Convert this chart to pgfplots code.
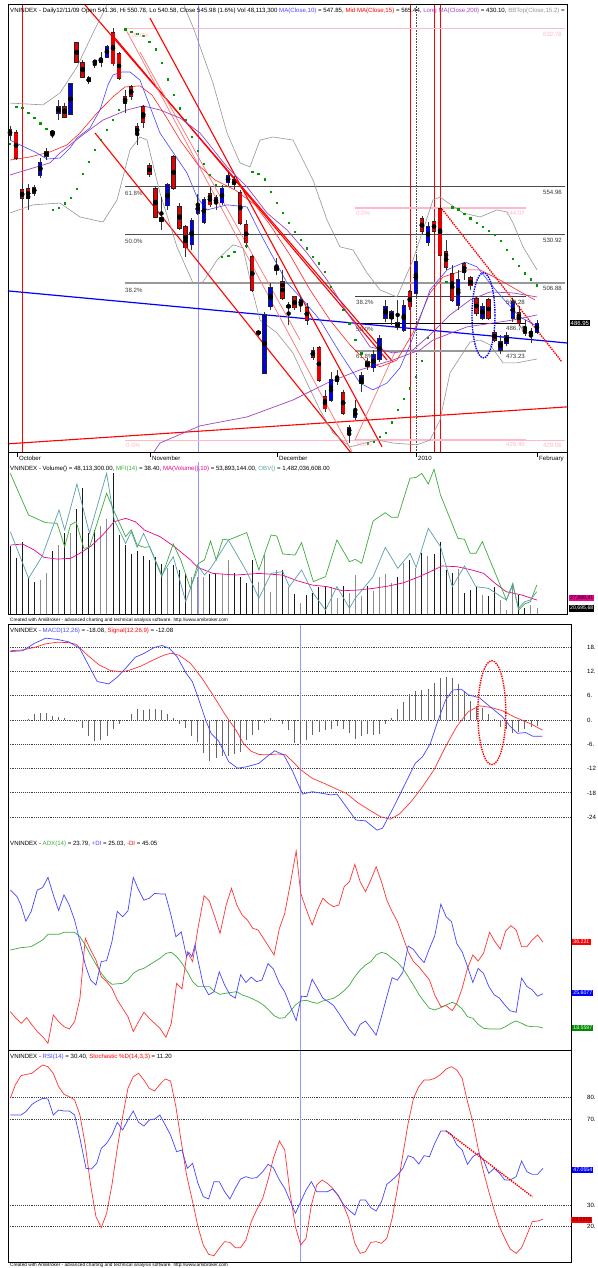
\documentclass[border=0pt]{standalone}
\usepackage{pgfplots}
\usepackage{pgfplotstable}
\pgfplotsset{compat=1.18}
\usepackage{fontspec}
\setmainfont{Liberation Sans}
\definecolor{maBlue}{RGB}{70,70,255}
\definecolor{candRed}{RGB}{230,0,0}
\definecolor{candBlue}{RGB}{0,0,230}
\definecolor{fibpink}{RGB}{255,185,200}
\definecolor{purp}{RGB}{160,70,190}
\definecolor{sarGreen}{RGB}{0,150,0}
\definecolor{mfiGreen}{RGB}{60,170,60}
\definecolor{obvTeal}{RGB}{90,160,170}
\definecolor{lblue}{RGB}{150,150,255}
\definecolor{bbgray}{RGB}{150,150,150}
\newcommand{\tf}{\fontsize{6.1}{6.6}\selectfont}
\newcommand{\smallf}{\fontsize{4.75}{5.2}\selectfont}
\pgfplotsset{
  pane/.style={scale only axis, hide axis, xmin=-0.33, clip=true, anchor=south west},
  upane/.style={pane, xmax=92.04, width=559.5pt},
  lpane/.style={pane, xmax=92.62, width=563pt},
}
\pgfplotstableread{
i o h l c
5 560.4 568.8 558.9 566.4
6 569.8 573.8 567.8 571.8
8 591.1 597.5 587.6 594.1
10 590.6 605.9 590.1 605.4
15 616.3 621.3 613.9 617.8
16 618.8 624.8 618.3 623.8
26 545.1 556.5 543.1 555.5
30 525.8 539.1 523.3 537.6
31 541.36 550.78 540.58 545.98
32 537.1 549.5 536.1 548.0
35 546.6 555.5 545.6 553.5
36 556.5 561.9 555.0 559.9
41 482.0 483.7 480.7 482.7
42 462.4 492.6 461.9 491.1
43 495.1 507.0 493.6 504.5
44 513.4 519.3 510.9 514.9
46 495.1 497.5 486.1 495.6
48 496.1 500.0 492.6 498.5
53 449.0 462.9 448.0 458.9
54 458.4 463.9 456.4 459.9
56 432.7 436.7 427.7 435.2
57 440.6 449.0 439.1 443.6
58 457.4 462.9 453.0 460.9
60 464.9 473.8 462.9 471.3
61 469.3 481.2 467.8 479.2
62 489.6 498.5 487.6 495.1
63 489.6 493.6 486.1 492.6
65 483.7 498.5 482.7 495.6
67 502.0 520.8 501.0 517.3
69 527.2 537.1 525.3 534.7
74 496.0 513.4 493.6 508.4
78 489.6 497.0 488.6 495.1
81 473.8 481.2 471.8 477.8
82 476.8 482.7 475.8 480.7
83 489.6 499.5 487.6 497.5
86 482.0 484.7 477.2 482.4
87 482.7 488.6 481.7 486.95
}\upc
\pgfplotstableread{
i o h l c
0 582.7 584.7 577.7 580.2
1 581.2 582.7 567.8 568.8
2 553.0 556.5 544.6 549.0
3 553.5 556.0 543.1 549.0
4 554.0 555.5 550.0 551.5
7 581.7 582.2 578.7 581.2
9 594.1 596.0 588.6 589.1
11 625.8 626.3 615.8 616.3
12 615.9 617.3 608.4 608.9
13 608.4 609.4 605.4 606.5
14 616.6 617.3 613.4 616.3
17 630.7 633.2 614.4 615.4
18 620.3 621.3 607.4 608.4
19 599.1 602.5 591.1 596.0
20 604.0 605.0 597.5 599.5
21 584.2 586.1 575.3 581.2
22 594.1 595.1 583.7 586.6
23 564.9 566.4 559.4 560.9
24 553.5 555.0 539.1 539.6
25 539.1 549.5 533.2 537.6
27 569.3 570.3 553.0 554.0
28 544.6 546.5 533.2 534.2
29 534.7 535.7 519.8 524.3
33 551.0 554.5 544.6 545.6
34 549.0 550.5 543.1 546.6
37 557.9 559.9 553.5 555.5
38 551.5 553.0 535.7 536.6
39 535.7 538.1 524.3 526.8
40 519.8 520.8 502.5 503.4
45 507.4 513.4 498.5 499.5
47 500.0 500.5 493.6 494.6
49 494.6 497.0 486.1 488.6
50 473.3 475.3 468.8 470.3
51 474.8 475.8 458.0 458.9
52 450.5 454.0 443.1 444.6
55 452.5 454.0 441.6 442.6
59 467.8 469.8 463.9 465.4
64 487.1 498.5 483.7 485.1
66 502.5 503.5 493.6 495.1
68 538.6 540.1 530.7 532.7
70 537.1 539.1 530.7 532.7
71 543.6 545.6 520.3 520.8
72 522.3 528.2 513.4 514.9
73 511.4 515.9 497.5 498.5
75 516.4 517.3 508.4 512.4
76 509.4 510.4 503.5 505.5
77 499.0 500.5 490.6 492.1
79 498.5 499.5 488.6 489.6
80 482.2 483.7 477.7 478.7
84 492.1 495.6 485.7 487.1
85 484.2 488.6 480.7 482.2
}\dnc
\pgfplotstableread{
i v
5 45.3
6 51.6
8 75.5
10 85.6
15 92.3
16 97.7
26 55.3
30 47.5
31 48.11
32 47.5
35 50.4
36 62.6
41 43.8
42 66.9
43 35.2
44 53.9
46 39.5
48 25.1
53 39.5
54 29.4
56 34.3
57 49.6
58 31.4
60 36.0
61 47.5
62 50.2
63 42.4
65 59.6
67 55.3
69 66.0
74 54.5
78 32.3
81 28.0
82 19.3
83 41.8
86 23.6
87 20.7
}\volUp
\pgfplotstableread{
i v
0 74.7
1 64.6
2 78.4
3 46.7
4 43.2
7 70.6
9 86.2
11 106.7
12 124.5
13 85.6
14 88.5
17 137.5
18 84.2
19 75.5
20 67.8
21 70.6
22 66.0
23 62.6
24 65.4
25 59.1
27 58.2
28 53.9
29 50.4
33 50.2
34 51.0
37 51.0
38 47.5
39 42.4
40 62.6
45 53.9
47 33.2
49 32.3
50 34.3
51 38.9
52 38.9
55 40.1
59 40.1
64 48.1
66 62.6
68 68.3
70 67.8
71 78.4
72 53.9
73 51.0
75 33.7
76 36.6
77 39.5
79 31.4
80 39.5
84 32.3
85 20.7
}\volDn
\pgfplotstableread{
i h
0 0
1 0
2 0
3 0.3
4 1.4
5 1.8
6 1.8
7 1.0
8 0.8
9 0.6
10 -0.2
11 -0.6
12 -1.9
13 -3.9
14 -5.3
15 -5.0
16 -3.9
17 -2.2
18 -0.9
19 0.0
20 1.4
21 2.6
22 2.5
23 2.6
24 2.6
25 2.5
26 1.6
27 0.5
28 -1.0
29 -2.0
30 -4.0
31 -5.5
32 -8.2
33 -10.2
34 -9.5
35 -9.0
36 -8.8
37 -8.5
38 -7.8
39 -5.0
40 -3.8
41 -2.5
42 -0.8
43 0.6
44 -0.3
45 -1.0
46 -2.5
47 -5.6
48 -5.9
49 -4.9
50 -3.7
51 -2.9
52 -2.5
53 -2.1
54 -1.6
55 -2.1
56 -3.3
57 -4.6
58 -4.0
59 -3.5
60 -3.6
61 -3.5
62 -1.0
63 0.6
64 2.6
65 4.5
66 6.3
67 7.2
68 7.4
69 7.6
70 9.1
71 10.3
72 10.5
73 10.3
74 9.0
75 7.2
76 4.6
77 3.5
78 2.9
79 1.5
80 0.2
81 -1.8
82 -2.1
83 -3.3
84 -2.9
85 -2.1
86 -1.8
87 -1.6
}\hist
\begin{document}
\begin{tikzpicture}[x=1pt,y=1pt]
\fill[white] (0,0) rectangle (597,-1268);

% ================= PRICE PANE =================
\begin{axis}[upane, at={(8pt,-452.3pt)}, height=448pt, ymin=423.1, ymax=644.9]
\addplot[lblue, line width=1pt] coordinates {(31.09,400) (31.09,660)};
\addplot[red, line width=0.9pt] coordinates {(1.98,400) (1.98,660)};
\addplot[red, line width=0.9pt] coordinates {(66.15,400) (66.15,660)};
\addplot[red, line width=0.9pt] coordinates {(70.0,400) (70.0,660)};
\addplot[red, line width=0.9pt] coordinates {(71.1,400) (71.1,660)};
\addplot[black!70, densely dotted, line width=0.6pt] coordinates {(67.03,400) (67.03,660)};
\addplot[fibpink, line width=1.2pt] coordinates {(18.99,632.78) (91.6,632.78)};
\addplot[black!70, line width=0.7pt] coordinates {(18.99,554.96) (91.6,554.96)};
\addplot[black!70, line width=0.7pt] coordinates {(18.99,530.92) (91.6,530.92)};
\addplot[black!40, line width=1.4pt] coordinates {(18.99,506.88) (91.6,506.88)};
\addplot[fibpink, line width=1.2pt] coordinates {(18.99,429.06) (91.6,429.06)};
\addplot[fibpink, line width=1.2pt] coordinates {(56.96,544.07) (85.19,544.07)};
\addplot[black!75, line width=0.7pt] coordinates {(56.96,500.29) (85.19,500.29)};
\addplot[black, line width=0.9pt] coordinates {(56.96,486.76) (85.19,486.76)};
\addplot[black!40, line width=1.4pt] coordinates {(56.96,473.23) (85.19,473.23)};
\addplot[fibpink, line width=1.2pt] coordinates {(56.96,429.45) (85.19,429.45)};
\addplot[blue, line width=1.2pt] coordinates {(-0.33,503.0) (92.04,477.2)};
\addplot[red, line width=1.1pt] coordinates {(-0.33,427.3) (92.04,445.6)};
\addplot[red, line width=1.1pt] coordinates {(12.38,644.6) (63.23,467.8)};
\addplot[red, line width=1.1pt] coordinates {(17.34,628.2) (62.24,468.8)};
\addplot[red, line width=1.1pt] coordinates {(23.11,638.1) (61.42,425.8)};
\addplot[red, line width=1.1pt] coordinates {(14.03,581.2) (56.96,420.3)};
\addplot[red!55, line width=0.7pt] coordinates {(18.99,633.2) (56.46,423.3)};
\addplot[red!55, line width=0.7pt] coordinates {(21.46,621.3) (47.88,478.7)};
\addplot[red!55, line width=0.7pt] coordinates {(56.96,429.2) (63.56,472.8)};
\addplot[red, densely dotted, line width=1.4pt] coordinates {(71.32,543.5) (91.13,467.8)};
\addplot[bbgray, line width=0.6pt] coordinates {(0,596.0)(5.45,595.1)(8.25,601.0)(11.06,613.9)(13.70,630.7)(15.35,640.6)(16.84,649.5)(28.07,649.5)(29.22,640.6)(30.21,633.7)(33.51,605.9)(35.83,581.2)(37.97,566.4)(39.62,564.4)(41.27,577.7)(43.42,579.2)(46.72,577.7)(50.02,557.9)(52.34,538.1)(54.48,524.8)(56.63,523.3)(58.94,511.9)(61.09,503.5)(63.89,500.0)(66.53,518.3)(69.84,548.0)(70.99,549.5)(72.15,547.0)(74.79,541.6)(77.60,539.6)(80.40,543.1)(82.05,542.1)(83.05,536.6)(84.70,524.8)(87.01,513.4)};
\addplot[bbgray, line width=0.6pt] coordinates {(0,541.6)(3.80,545.6)(8.25,546.5)(11.56,539.6)(15.35,537.1)(17.67,548.0)(19.81,572.8)(21.46,579.2)(22.62,577.7)(24.76,551.5)(27.57,524.8)(30.21,506.9)(31.86,507.4)(34.18,518.3)(36.82,525.8)(38.47,524.3)(40.12,502.0)(41.27,488.6)(44.08,482.2)(46.72,472.3)(49.03,457.4)(51.18,444.1)(53.33,432.7)(56.13,425.8)(60.59,429.2)(63.23,427.7)(67.20,426.8)(69.34,429.2)(70.99,439.1)(72.64,462.4)(75.95,477.7)(77.60,478.7)(79.25,476.3)(81.39,467.4)(83.70,467.4)(87.01,469.3)};
\addplot[purp, line width=0.7pt] coordinates {(0,560.4)(6.60,566.4)(8.25,571.3)(11.56,579.2)(15.35,587.6)(19.32,592.6)(21.96,594.6)(24.76,592.6)(28.07,588.6)(31.37,581.2)(35.83,564.4)(39.13,554.5)(42.43,541.6)(45.73,533.2)(49.03,521.8)(52.34,508.4)(56.13,490.1)(59.44,475.3)(63.23,472.3)(66.53,473.8)(69.34,481.2)(72.64,491.1)(75.95,498.5)(79.25,502.5)(83.05,502.0)(87.01,500.0)};
\addplot[purp, line width=0.7pt] coordinates {(23.11,420.3)(24.76,427.7)(31.37,436.2)(39.13,440.6)(46.72,449.0)(52.34,457.4)(57.78,463.9)(63.23,468.8)(67.69,473.8)(69.84,478.7)(75.45,485.2)(83.05,488.6)(87.01,491.1)};
\addplot[red!85, line width=0.6pt] coordinates {(0,567.8)(3.30,569.3)(6.60,571.8)(9.41,575.3)(11.56,581.2)(14.36,591.1)(17.00,599.1)(18.99,604.0)(21.46,604.5)(23.44,600.0)(25.59,590.1)(28.07,577.7)(31.04,565.4)(33.85,557.9)(37.15,553.0)(40.45,545.6)(42.93,535.7)(46.23,520.8)(49.53,503.5)(52.83,488.6)(56.13,476.3)(58.61,468.8)(61.09,465.4)(63.89,468.8)(66.53,482.2)(69.34,502.0)(71.49,509.9)(75.12,513.4)(77.60,513.4)(80.90,508.4)(83.70,503.5)(86.68,498.5)};
\addplot[maBlue, line width=0.6pt] coordinates {(0,577.7)(1.65,575.3)(4.13,571.8)(6.11,568.3)(8.25,568.8)(9.91,573.8)(11.06,578.7)(13.21,583.7)(14.86,592.6)(16.18,605.0)(17.0,609.9)(18.49,611.4)(19.81,611.4)(21.46,607.4)(24.76,581.2)(29.22,561.4)(30.87,549.5)(32.52,543.1)(35.83,545.6)(39.13,544.6)(41.27,531.7)(45.73,507.0)(48.37,498.5)(51.18,488.6)(54.48,472.3)(57.78,457.4)(59.93,454.0)(62.24,457.4)(64.4,465.0)(66.04,476.3)(67.69,489.6)(69.34,503.5)(72.15,513.4)(75.12,517.3)(77.10,514.9)(79.74,505.0)(82.05,497.0)(84.20,490.1)(86.68,486.1)(87.0,485.8)};
\addplot[only marks, mark=square*, mark size=0.65pt, sarGreen] coordinates {(0,575.8)(1,594.1)(2,593.6)(3,591.1)(4,588.6)(5,586.1)(6,583.2)(7,543.1)(8,544.1)(9,546.5)(10,549.0)(11,553.5)(12,560.9)(13,566.9)(14,572.8)(15,577.7)(16,582.7)(17,587.6)(18,592.6)(19,632.5)(20,631.3)(21,630.5)(22,629.2)(23,626.4)(24,622.6)(25,616.0)(26,607.8)(27,600.0)(28,593.4)(29,587.6)(30,579.4)(31,572.4)(32,565.9)(33,560.4)(34,555.5)(35,519.9)(36,520.3)(37,522.5)(39,525.4)(40,562.0)(41,561.2)(42,558.3)(43,552.1)(44,546.7)(45,541.7)(46,536.8)(47,532.3)(48,528.2)(49,524.1)(50,519.9)(51,516.7)(52,512.5)(53,505.1)(55,493.6)(56,487.0)(57,478.7)(58,472.1)(59,427.6)(60,428.4)(61,430.9)(62,432.9)(63,438.0)(64,444.1)(65,449.5)(66,454.8)(67,460.6)(68,468.5)(69,480.0)(72,507.6)(73,544.4)(74,543.4)(75,541.1)(76,539.0)(77,536.8)(78,534.8)(79,532.7)(80,530.7)(81,527.9)(82,523.3)(83,519.1)(84,515.4)(85,511.8)(86,508.8)(87,505.9)};
\addplot[only marks, mark=none, error bars/.cd, y dir=both, y explicit, error mark=none, error bar style={line width=0.6pt, black!80}] table[x=i, y expr={(\thisrow{h}+\thisrow{l})/2}, y error expr={(\thisrow{h}-\thisrow{l})/2}] {\upc};
\addplot[only marks, mark=none, error bars/.cd, y dir=both, y explicit, error mark=none, error bar style={line width=0.6pt, black!80}] table[x=i, y expr={(\thisrow{h}+\thisrow{l})/2}, y error expr={(\thisrow{h}-\thisrow{l})/2}] {\dnc};
\addplot[only marks, mark=none, error bars/.cd, y dir=both, y explicit, error mark=none, error bar style={line width=4.4pt, black!85}] table[x=i, y expr={(\thisrow{o}+\thisrow{c})/2}, y error expr={max(abs(\thisrow{o}-\thisrow{c})/2,0.35)+0.3}] {\upc};
\addplot[only marks, mark=none, error bars/.cd, y dir=both, y explicit, error mark=none, error bar style={line width=4.4pt, black!85}] table[x=i, y expr={(\thisrow{o}+\thisrow{c})/2}, y error expr={max(abs(\thisrow{o}-\thisrow{c})/2,0.35)+0.3}] {\dnc};
\addplot[only marks, mark=none, error bars/.cd, y dir=both, y explicit, error mark=none, error bar style={line width=3.2pt, candBlue}] table[x=i, y expr={(\thisrow{o}+\thisrow{c})/2}, y error expr={max(abs(\thisrow{o}-\thisrow{c})/2,0.35)}] {\upc};
\addplot[only marks, mark=none, error bars/.cd, y dir=both, y explicit, error mark=none, error bar style={line width=3.2pt, candRed}] table[x=i, y expr={(\thisrow{o}+\thisrow{c})/2}, y error expr={max(abs(\thisrow{o}-\thisrow{c})/2,0.35)}] {\dnc};
\draw[blue, densely dotted, line width=1.4pt] (axis cs:78.17,490.9) ellipse [x radius=11.5pt, y radius=42.5pt];
\end{axis}

% ================= VOLUME PANE =================
\begin{axis}[upane, at={(8pt,-614.7pt)}, height=152.7pt, ymin=15.27, ymax=147.36]
\addplot[lblue, line width=1pt] coordinates {(31.09,0) (31.09,200)};
\addplot[ycomb, black!45, line width=0.9pt] table[x=i,y=v] {\volUp};
\addplot[ycomb, black!90, line width=0.9pt] table[x=i,y=v] {\volDn};
\addplot[magenta, line width=0.7pt] coordinates {(0.05,75.5)(2.1,76.4)(4.0,71.2)(5.6,64.9)(7.8,63.4)(10.0,64.0)(11.5,68.3)(13.4,74.7)(15.3,84.2)(17.2,95.7)(19.1,98.6)(20.7,95.7)(22.2,88.5)(24.8,82.7)(27.3,73.5)(29.8,62.6)(31.0,56.2)(33.5,51.0)(37.3,49.6)(41.1,51.0)(44.9,49.6)(47.4,44.7)(49.9,40.9)(52.4,39.5)(54.9,36.0)(57.4,36.6)(59.9,38.0)(62.5,40.1)(65.0,42.9)(67.5,48.1)(69.4,52.5)(71.3,57.4)(73.8,56.8)(76.3,53.9)(78.2,51.0)(80.1,42.4)(81.9,35.2)(84.5,32.3)(87.0,27.9)};
\end{axis}
\begin{axis}[upane, at={(8pt,-614.7pt)}, height=152.7pt, ymin=-1.38, ymax=102.0]
\addplot[mfiGreen, line width=0.7pt] coordinates {(0.05,94.3)(3.07,66.1)(5.90,60.9)(7.78,60.5)(9.03,44.7)(9.98,59.4)(10.92,61.6)(12.18,43.6)(13.12,44.2)(15.95,80.8)(17.21,68.4)(19.09,51.5)(20.03,56.0)(20.98,45.8)(22.23,44.2)(23.05,44.7)(25.06,24.4)(26.95,46.5)(28.20,35.7)(29.78,16.5)(31.03,33.0)(32.10,35.7)(33.11,48.5)(34.05,35.7)(35.12,49.7)(36.07,49.2)(39.08,54.2)(41.09,28.9)(43.10,52.6)(44.05,51.9)(45.05,39.7)(47.06,39.0)(48.13,47.4)(50.08,21.0)(52.09,24.4)(53.97,49.2)(56.05,34.5)(56.99,36.1)(58.06,33.4)(59.95,62.1)(61.96,67.7)(62.96,64.6)(64.03,64.6)(66.04,91.0)(67.05,91.6)(67.99,94.3)(69.06,87.1)(70.0,97.1)(71.07,79.7)(73.96,50.3)(75.03,49.7)(75.97,40.2)(76.92,40.2)(77.99,48.1)(78.99,37.9)(81.95,8.6)(83.01,19.9)(83.96,1.8)(84.96,5.9)(85.90,7.4)(86.97,18.7)};
\end{axis}
\begin{axis}[upane, at={(8pt,-614.7pt)}, height=152.7pt, ymin=0.979, ymax=2.582]
\addplot[obvTeal, line width=0.7pt] coordinates {(0.05,1.851)(3.07,1.361)(5.27,1.588)(8.09,2.078)(9.03,1.868)(11.05,2.351)(13.12,1.833)(15.95,2.463)(17.21,1.973)(19.09,1.728)(20.03,1.851)(20.98,1.686)(22.05,1.833)(23.05,1.693)(25.06,1.396)(26.95,1.588)(29.02,1.116)(30.09,1.308)(31.16,1.483)(32.10,1.396)(33.11,1.466)(36.06,1.763)(39.08,1.431)(41.09,1.151)(43.10,1.413)(45.05,1.431)(46.12,1.273)(48.13,1.448)(50.08,1.203)(52.09,1.028)(53.97,1.273)(56.05,1.046)(56.99,1.151)(59.95,1.378)(61.96,1.686)(64.03,1.466)(66.04,1.623)(67.05,1.476)(69.06,1.886)(71.07,1.693)(73.02,1.273)(75.03,1.490)(76.92,1.273)(78.99,1.256)(81.95,1.133)(83.01,1.291)(83.96,1.046)(84.96,1.116)(85.90,1.133)(86.97,1.221)};
\end{axis}

% ================= MACD PANE =================
\begin{axis}[lpane, at={(8pt,-837pt)}, height=213pt, ymin=-28.89, ymax=23.70]
\addplot[black!75, densely dotted, line width=0.9pt] coordinates {(-1,18)(93,18)};
\addplot[black!75, densely dotted, line width=0.9pt] coordinates {(-1,12)(93,12)};
\addplot[black!75, densely dotted, line width=0.9pt] coordinates {(-1,6)(93,6)};
\addplot[black!75, densely dotted, line width=0.9pt] coordinates {(-1,0)(93,0)};
\addplot[black!75, densely dotted, line width=0.9pt] coordinates {(-1,-6)(93,-6)};
\addplot[black!75, densely dotted, line width=0.9pt] coordinates {(-1,-12)(93,-12)};
\addplot[black!75, densely dotted, line width=0.9pt] coordinates {(-1,-18)(93,-18)};
\addplot[black!75, densely dotted, line width=0.9pt] coordinates {(-1,-24)(93,-24)};
\addplot[lblue, line width=1pt] coordinates {(48.0,-40) (48.0,40)};
\addplot[ycomb, black!60, line width=0.8pt] table[x=i,y=h] {\hist};
\addplot[red!80, line width=0.7pt] coordinates {(0.05,17.1)(2.1,17.3)(4.0,17.9)(5.9,18.8)(7.8,19.2)(9.7,19.1)(10.9,18.7)(12.8,16.0)(14.7,13.6)(16.6,12.2)(18.5,11.9)(19.7,12.3)(21.6,13.3)(23.5,14.7)(25.4,16.0)(26.6,16.5)(27.9,16.0)(29.8,14.0)(31.7,10.3)(33.5,6.2)(35.4,1.6)(37.3,-2.5)(38.6,-5.9)(39.8,-7.7)(41.1,-8.5)(42.3,-8.6)(44.2,-8.4)(45.5,-8.6)(46.7,-10.3)(48.0,-12.3)(49.9,-14.4)(51.8,-15.6)(53.7,-16.9)(55.5,-18.1)(57.4,-20.4)(59.3,-22.2)(61.2,-23.9)(62.8,-24.5)(64.3,-23.2)(66.2,-20.2)(68.1,-16.5)(70.0,-12.3)(71.9,-6.6)(73.8,-1.5)(75.7,2.1)(77.5,3.5)(79.4,3.1)(81.3,2.3)(83.2,0.8)(85.1,-0.4)(86.3,-1.2)(87.9,-2.5)};
\addplot[maBlue, line width=0.7pt] coordinates {(0.05,16.9)(2.1,17.1)(4.0,18.9)(5.9,20.2)(7.8,19.9)(9.7,19.3)(11.5,17.7)(12.8,14.0)(14.4,9.5)(16.3,8.9)(17.8,10.7)(19.1,12.8)(20.7,15.5)(22.2,16.5)(23.8,17.9)(25.1,18.4)(26.3,17.7)(27.6,15.6)(29.1,11.5)(30.1,9.5)(31.0,5.8)(32.3,0.0)(33.2,-3.3)(34.5,-5.3)(36.1,-10.3)(37.6,-11.9)(39.2,-11.5)(41.1,-10.7)(42.3,-9.2)(43.7,-7.6)(45.2,-8.6)(46.7,-12.8)(48.3,-18.3)(49.9,-17.7)(51.5,-18.1)(53.0,-18.5)(54.0,-18.3)(55.5,-21.4)(57.1,-24.7)(58.7,-24.9)(60.6,-27.2)(61.5,-26.7)(63.1,-22.2)(65.0,-16.5)(66.9,-10.7)(68.1,-9.1)(69.4,-5.8)(70.6,-0.4)(71.9,4.9)(73.1,7.4)(74.5,7.6)(75.7,6.2)(77.5,5.5)(79.4,3.1)(81.3,0.8)(82.6,-1.6)(83.8,-3.3)(85.1,-3.1)(86.3,-4.0)(87.9,-4.0)};
\draw[red, densely dotted, line width=1.4pt] (axis cs:79.55,1.8) ellipse [x radius=14pt, y radius=52pt];
\end{axis}

% ================= ADX PANE =================
\begin{axis}[lpane, at={(8pt,-1050pt)}, height=213pt, ymin=14.05, ymax=57.78]
\addplot[lblue, line width=1pt] coordinates {(48.0,0) (48.0,70)};
\addplot[mfiGreen, line width=0.7pt] coordinates {(0.05,34.58)(1.81,35.06)(3.50,35.27)(5.39,36.64)(6.27,37.80)(8.03,37.80)(8.91,38.21)(10.67,38.21)(11.55,37.32)(12.43,35.61)(13.31,33.56)(14.19,31.64)(15.07,29.80)(15.95,28.43)(16.83,27.54)(18.59,27.74)(19.47,28.43)(20.35,29.80)(21.23,30.48)(22.11,30.82)(22.99,31.51)(23.87,32.19)(24.75,32.87)(25.75,33.90)(26.63,34.11)(27.51,33.22)(28.39,31.85)(29.27,30.14)(30.15,28.09)(31.03,27.06)(32.92,27.06)(33.80,26.03)(34.68,25.49)(35.56,25.69)(37.45,26.03)(38.33,25.35)(39.20,25.01)(40.08,24.53)(40.96,23.98)(41.84,23.30)(42.72,22.27)(43.60,21.11)(44.48,20.56)(45.36,20.70)(46.24,21.93)(47.12,23.30)(48.0,24.12)(48.95,24.26)(49.89,23.85)(50.77,23.64)(51.65,24.12)(52.53,24.39)(53.41,24.67)(54.29,25.35)(55.17,26.24)(56.05,27.40)(56.93,29.11)(57.81,30.48)(58.69,31.51)(59.57,32.19)(60.45,33.56)(61.33,34.11)(62.21,33.76)(63.09,32.87)(63.97,32.05)(64.85,30.82)(65.73,29.11)(66.61,27.40)(67.49,25.49)(68.37,23.98)(69.25,22.61)(70.13,22.27)(71.13,22.75)(72.01,23.30)(73.02,23.85)(73.77,23.43)(74.65,22.48)(75.53,20.90)(76.41,20.56)(77.29,19.33)(78.17,18.51)(79.18,18.37)(80.06,18.37)(80.94,18.37)(81.82,18.85)(82.70,19.54)(83.57,20.01)(84.46,19.54)(85.34,18.99)(86.22,18.85)(87.10,18.85)(87.98,18.56)};
\addplot[red!80, line width=0.7pt] coordinates {(0.05,21.93)(0.99,20.56)(1.87,19.54)(2.75,20.70)(3.63,19.19)(4.51,17.83)(5.39,16.80)(6.27,15.43)(7.15,21.25)(8.03,19.88)(8.91,18.85)(9.79,18.37)(10.67,19.88)(11.55,24.67)(12.43,36.98)(13.31,34.58)(14.19,32.53)(15.07,29.11)(15.95,28.09)(16.83,26.72)(17.71,24.32)(18.59,22.61)(19.47,20.90)(20.35,17.83)(21.23,19.88)(22.11,21.80)(22.99,20.56)(23.87,19.54)(24.75,18.51)(25.75,16.66)(26.63,19.54)(27.51,27.74)(28.39,26.58)(29.27,34.24)(30.15,32.19)(31.03,39.03)(32.04,45.73)(32.92,44.64)(33.80,41.42)(34.68,38.00)(35.69,43.82)(36.57,47.24)(37.45,43.82)(38.33,41.77)(39.20,40.74)(40.08,39.03)(40.96,38.69)(41.84,36.98)(42.72,35.27)(43.60,33.56)(44.48,39.03)(45.36,42.11)(46.24,47.92)(47.25,54.90)(48.0,46.21)(48.95,42.79)(49.89,39.71)(50.77,42.79)(51.65,45.19)(52.53,44.16)(53.41,43.48)(54.29,43.82)(55.17,47.58)(56.05,48.61)(56.93,52.16)(57.81,48.61)(58.69,46.55)(59.57,48.95)(60.45,51.68)(61.33,48.61)(62.21,44.84)(63.09,42.45)(63.97,40.40)(64.85,37.32)(65.73,34.24)(66.61,32.19)(67.49,31.16)(68.37,29.80)(69.25,28.43)(70.13,25.35)(71.13,22.96)(72.01,23.16)(73.02,22.14)(73.77,23.64)(74.65,26.72)(75.53,30.82)(76.41,33.56)(77.29,32.33)(78.17,33.90)(79.18,38.21)(80.06,36.30)(80.94,34.79)(81.82,38.48)(82.70,39.58)(83.57,38.69)(84.46,35.27)(85.34,35.27)(86.22,36.64)(87.10,37.66)(87.98,36.22)};
\addplot[maBlue, line width=0.7pt] coordinates {(0.05,46.9)(1.18,45.5)(1.81,43.8)(2.62,40.5)(3.50,42.5)(4.51,46.9)(5.39,47.4)(6.27,49.5)(7.15,45.9)(8.03,42.7)(8.91,45.9)(9.79,43.8)(10.67,40.7)(11.55,36.3)(12.43,31.5)(13.31,28.4)(14.19,27.4)(15.07,32.2)(15.95,32.4)(16.83,36.3)(17.71,42.5)(18.59,41.4)(19.47,42.6)(20.35,49.5)(21.23,46.9)(22.11,44.8)(22.99,45.2)(23.87,46.2)(24.75,46.1)(25.63,46.1)(26.51,42.1)(27.39,37.3)(28.27,38.3)(29.15,33.2)(29.53,34.1)(30.03,33.2)(30.53,35.6)(31.03,32.5)(31.91,27.4)(32.79,25.4)(33.67,26.0)(34.55,30.1)(35.43,27.4)(36.31,25.4)(37.19,24.7)(38.07,29.5)(38.95,27.9)(39.83,29.0)(40.71,28.1)(41.59,28.4)(42.60,31.8)(43.48,30.7)(44.48,27.7)(45.36,26.0)(46.37,22.8)(47.25,20.1)(48.13,25.1)(49.01,25.0)(49.89,28.6)(50.77,26.7)(51.65,24.7)(52.53,24.0)(53.41,23.2)(54.29,21.6)(55.17,19.9)(56.05,18.2)(56.93,17.0)(57.81,19.3)(58.69,20.0)(59.57,18.6)(60.45,17.1)(61.33,20.9)(62.21,25.0)(63.09,28.9)(63.97,28.4)(64.85,30.0)(65.73,35.4)(66.61,34.7)(67.49,33.2)(68.37,32.0)(69.25,34.9)(70.13,37.5)(71.13,44.0)(72.01,41.4)(72.89,40.4)(73.77,35.9)(74.65,34.2)(75.53,31.2)(76.41,27.9)(77.29,30.8)(78.17,29.8)(79.05,27.1)(79.93,25.4)(80.81,24.7)(81.69,23.3)(82.57,22.1)(83.57,21.8)(84.46,28.8)(85.34,27.1)(86.22,26.4)(87.10,25.1)(87.98,25.61)};
\end{axis}

% ================= RSI PANE =================
\begin{axis}[lpane, at={(8pt,-1262.3pt)}, height=212.3pt, ymin=3.29, ymax=102.2]
\addplot[black!75, densely dotted, line width=0.9pt] coordinates {(-1,80)(93,80)};
\addplot[black!75, densely dotted, line width=0.9pt] coordinates {(-1,70)(93,70)};
\addplot[black!75, densely dotted, line width=0.9pt] coordinates {(-1,30)(93,30)};
\addplot[black!75, densely dotted, line width=0.9pt] coordinates {(-1,20)(93,20)};
\addplot[lblue, line width=1pt] coordinates {(48.0,0) (48.0,110)};
\addplot[red!80, line width=0.7pt] coordinates {(0.05,79.69)(0.87,85.90)(1.81,90.24)(2.75,90.86)(3.63,91.33)(4.51,93.35)(5.39,95.21)(6.27,94.44)(7.15,91.33)(8.03,85.12)(8.91,81.55)(9.79,80.46)(10.67,78.91)(11.55,71.92)(12.43,57.94)(13.31,39.30)(14.19,24.55)(15.07,19.43)(15.95,26.10)(16.83,39.30)(17.71,56.39)(18.59,71.14)(19.47,84.34)(20.35,89.78)(21.23,91.33)(22.11,88.22)(22.99,84.34)(23.87,83.10)(24.75,86.20)(25.63,88.69)(26.51,87.76)(27.39,75.80)(28.27,59.49)(29.15,43.96)(30.15,31.54)(31.03,19.89)(31.91,11.35)(32.79,7.00)(33.67,6.38)(34.55,9.80)(35.43,12.90)(36.31,12.59)(37.19,10.11)(38.07,10.11)(38.95,13.68)(39.83,22.22)(40.71,27.66)(41.72,33.09)(42.60,41.63)(43.48,51.73)(44.48,59.80)(45.36,55.61)(46.24,35.42)(47.12,19.89)(48.0,11.35)(48.88,14.46)(49.76,29.99)(50.64,39.30)(51.52,41.63)(52.40,40.08)(53.28,37.75)(54.16,34.33)(55.04,29.99)(55.92,23.77)(56.93,12.13)(57.81,7.47)(58.69,8.24)(59.57,12.59)(60.45,12.90)(61.33,12.13)(62.21,14.46)(63.09,23.77)(63.97,37.75)(64.85,53.28)(65.73,68.03)(66.61,79.69)(67.49,85.12)(68.37,88.22)(69.25,88.22)(70.13,89.00)(71.13,90.86)(72.01,93.35)(72.89,94.44)(73.77,92.88)(74.65,89.00)(75.53,78.13)(76.41,68.81)(77.29,56.39)(78.17,45.52)(79.05,36.20)(79.93,27.66)(80.81,19.89)(81.69,14.46)(82.57,9.49)(83.57,7.47)(84.46,10.11)(85.34,16.01)(86.22,22.22)(87.10,22.53)(87.98,23.32)};
\addplot[maBlue, line width=0.7pt] coordinates {(0.05,71.92)(1.81,71.92)(2.62,73.47)(3.63,76.89)(4.51,78.44)(5.39,79.68)(6.27,79.37)(7.15,71.92)(8.03,74.25)(8.91,73.78)(9.79,73.78)(10.67,71.92)(11.55,61.05)(12.55,47.07)(13.44,46.76)(14.32,49.40)(15.07,56.39)(15.95,58.72)(16.83,62.60)(17.71,68.50)(18.59,64.93)(19.47,69.59)(20.35,73.78)(21.23,68.50)(22.11,66.79)(22.99,69.59)(23.87,70.05)(24.75,71.92)(25.63,67.26)(26.51,62.60)(27.51,54.83)(28.39,55.61)(29.27,47.07)(30.15,49.40)(31.03,40.08)(31.91,33.87)(32.79,32.78)(33.67,40.86)(34.55,40.86)(35.43,36.20)(36.31,32.78)(37.19,37.75)(38.07,42.10)(38.95,43.19)(39.83,42.41)(40.71,42.72)(41.72,45.52)(42.60,48.93)(43.48,47.38)(44.48,41.63)(45.36,37.75)(46.24,31.85)(47.12,26.10)(48.0,31.54)(48.88,36.97)(49.76,40.86)(50.64,36.20)(51.52,36.20)(52.40,36.20)(53.28,37.44)(54.16,34.65)(55.04,30.30)(55.92,27.66)(56.93,25.33)(57.81,32.32)(58.69,32.32)(59.57,28.74)(60.45,27.19)(61.33,31.54)(62.21,39.61)(63.09,41.63)(63.97,43.96)(64.85,47.07)(65.73,52.97)(66.61,52.04)(67.49,49.09)(68.37,52.97)(69.25,52.50)(70.13,58.72)(71.13,64.46)(72.01,64.46)(72.89,62.91)(73.77,57.94)(74.65,55.61)(75.53,48.93)(76.41,52.50)(77.29,54.06)(78.17,50.95)(79.05,44.74)(79.93,47.07)(80.81,44.74)(81.69,41.63)(82.57,41.63)(83.57,43.19)(84.46,50.49)(85.34,45.52)(86.22,44.27)(87.10,44.27)(87.98,47.06)};
\addplot[red, densely dotted, line width=1.4pt] coordinates {(72.0,64.46) (86.22,33.87)};
\end{axis}

% ================= FRAMES AND TEXT =================
\draw[black, line width=0.8pt] (8,-4.3) rectangle (567.5,-614.7);
\draw[black, line width=0.8pt] (8,-452.3) -- (567.5,-452.3);
\foreach \xx in {17,150,277,416,537} {\draw[black, line width=0.6pt] (\xx,-452.3) -- (\xx,-457);}
\draw[black, line width=0.8pt] (8,-624) rectangle (571,-1262.3);
\draw[black, line width=0.8pt] (8,-1050) -- (571,-1050);

\tikzset{lbl/.style={font=\tf, inner sep=0pt, anchor=west}}
\node[lbl] at (19,-458.5) {October};
\node[lbl] at (152,-458.5) {November};
\node[lbl] at (279,-458.5) {December};
\node[lbl] at (418,-458.5) {2010};
\node[lbl] at (539,-458.5) {February};

\node[lbl] at (10,-11) {VNINDEX - Daily12/11/09 Open 541.36, Hi 550.78, Lo 540.58, Close 545.98 (1.6\%) Vol 48,113,300 \textcolor{maBlue}{MA(Close,10)} = 547.85, \textcolor{red}{Mid MA(Close,15)} = 565.44, \textcolor{purp}{Long MA(Close,200)} = 430.10, \textcolor{bbgray}{BBTop(Close,15,2)} =};

\node[lbl, text=fibpink] at (128,-35) {100.0\%};
\node[lbl, text=black!75] at (125,-193) {61.8\%};
\node[lbl, text=black!75] at (125,-241) {50.0\%};
\node[lbl, text=black!75] at (125,-290) {38.2\%};
\node[lbl, text=fibpink] at (126,-445) {0.0\%};
\node[font=\tf, inner sep=0pt, anchor=east, text=fibpink] at (562,-34) {632.78};
\node[font=\tf, inner sep=0pt, anchor=east, text=black!80] at (562,-192) {554.96};
\node[font=\tf, inner sep=0pt, anchor=east, text=black!80] at (562,-240) {530.92};
\node[font=\tf, inner sep=0pt, anchor=east, text=black!80] at (562,-288) {506.88};
\node[font=\tf, inner sep=0pt, anchor=east, text=fibpink] at (562,-445) {429.06};
\node[lbl, text=fibpink] at (356,-213) {0.0\%};
\node[lbl, text=black!75] at (356,-302) {38.2\%};
\node[lbl, text=black!75] at (356,-329) {50.0\%};
\node[lbl, text=black!75] at (356,-356) {61.8\%};
\node[lbl, text=fibpink] at (356,-444) {100\%};
\node[font=\tf, inner sep=0pt, anchor=east, text=fibpink] at (525,-213) {544.07};
\node[font=\tf, inner sep=0pt, anchor=east, text=black!80] at (525,-302) {500.28};
\node[font=\tf, inner sep=0pt, anchor=east, text=black!80] at (525,-328) {486.76};
\node[font=\tf, inner sep=0pt, anchor=east, text=black!80] at (525,-356) {473.23};
\node[font=\tf, inner sep=0pt, anchor=east, text=fibpink] at (525,-444) {429.45};
\node[fill=black, text=white, font=\fontsize{6}{6.5}\selectfont, inner sep=1pt, anchor=west] at (569.5,-323) {486.95};

\node[lbl] at (10,-469) {VNINDEX - Volume() = 48,113,300.00, \textcolor{mfiGreen}{MFI(14)} = 38.40, \textcolor{magenta}{MA(Volume(),10)} = 53,893,144.00, \textcolor{obvTeal}{OBV()} = 1,482,036,608.00};
\node[fill=magenta, text=black, font=\fontsize{5.2}{5.6}\selectfont, inner sep=1pt, anchor=west] at (569,-598) {27,898,41};
\node[fill=black, text=white, font=\fontsize{5.2}{5.6}\selectfont, inner sep=1pt, anchor=west] at (569,-608.5) {20,695,68};
\node[font=\smallf, inner sep=0pt, anchor=west] at (10,-620) {Created with AmiBroker - advanced charting and technical analysis software. http://www.amibroker.com};

\node[lbl] at (10,-631) {VNINDEX - \textcolor{maBlue}{MACD(12,26)} = -18.08, \textcolor{red}{Signal(12,26,9)} = -12.08};
\foreach \yy/\tt in {647.1/18.,671.4/12.,695.7/6.,720.0/0.,744.3/-6.,768.6/-12,792.9/-18,817.2/-24}
  {\node[font=\tf, inner sep=0pt, anchor=west] at (587,-\yy) {\tt};}

\node[lbl] at (10,-844) {VNINDEX - \textcolor{mfiGreen}{ADX(14)} = 23.79, \textcolor{maBlue}{+DI} = 25.03, \textcolor{red}{-DI} = 45.05};
\node[fill=red, text=white, font=\fontsize{5.2}{5.6}\selectfont, inner sep=1.2pt, anchor=west] at (572,-942) {36.221};
\node[fill=blue, text=white, font=\fontsize{5.2}{5.6}\selectfont, inner sep=1.2pt, anchor=west] at (572,-993) {25.6077};
\node[fill=green!55!black, text=white, font=\fontsize{5.2}{5.6}\selectfont, inner sep=1.2pt, anchor=west] at (572,-1028) {18.5597};

\node[lbl] at (10,-1057) {VNINDEX - \textcolor{maBlue}{RSI(14)} = 30.40, \textcolor{red}{Stochastic \%D(14,3,3)} = 11.20};
\foreach \yy/\tt in {1097.7/80.,1119.1/70.,1205.0/30.,1226.4/20.}
  {\node[font=\tf, inner sep=0pt, anchor=west] at (587,-\yy) {\tt};}
\node[fill=blue, text=white, font=\fontsize{5.2}{5.6}\selectfont, inner sep=1.2pt, anchor=west] at (572,-1170) {47.0554};
\node[fill=red, text=black, font=\fontsize{5.2}{5.6}\selectfont, inner sep=1.2pt, anchor=west] at (571,-1220) {23.3215};
\node[font=\smallf, inner sep=0pt, anchor=west] at (10,-1265) {Created with AmiBroker - advanced charting and technical analysis software. http://www.amibroker.com};

\pgfresetboundingbox
\useasboundingbox (0,0) rectangle (597,-1268);
\end{tikzpicture}
\end{document}
